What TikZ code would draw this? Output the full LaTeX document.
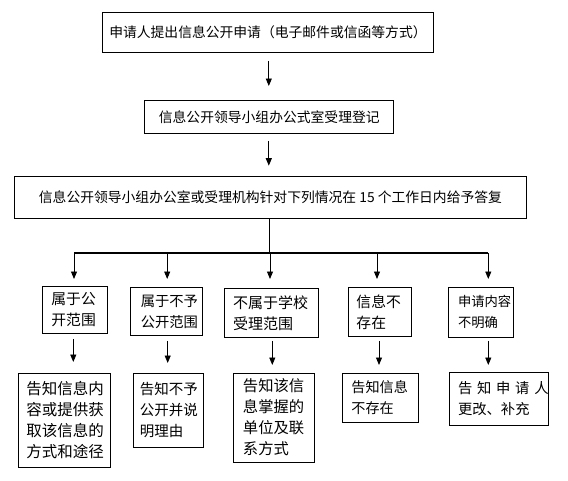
\documentclass[tikz,border=0pt]{standalone}
\usepackage{fontspec}
\setmainfont{Noto Sans CJK SC}
\usetikzlibrary{arrows.meta}
\newcommand{\fs}[1]{\fontsize{#1}{21}\selectfont}
\begin{document}
\begin{tikzpicture}[x=1pt,y=-1pt,
  box/.style={draw, line width=0.9pt, inner sep=0pt, anchor=north west},
  topbox/.style={box, align=center, font=\fontsize{13.8}{16}\selectfont},
  lowbox/.style={box, align=left},
  arr/.style={line width=0.9pt, -{Triangle[length=7.5pt,width=6pt]}},
  bar/.style={line width=2pt},
  stem/.style={line width=0.9pt}]
\useasboundingbox (0,0) rectangle (568,480);
% top boxes
\node[topbox, minimum width=331.6pt, minimum height=40.6pt] (t1) at (101.7,11.7)
  {申请人提出信息公开申请（电子邮件或信函等方式）};
\node[topbox, minimum width=249pt, minimum height=33.3pt] (t2) at (144.3,100)
  {信息公开领导小组办公式室受理登记};
\node[topbox, minimum width=511.4pt, minimum height=42.6pt] (t3) at (14.3,175.7)
  {信息公开领导小组办公室或受理机构针对下列情况在 15 个工作日内给予答复};
% level boxes
\node[lowbox, minimum width=65pt, minimum height=47pt, text width=46.4pt, font=\fs{14.8}] (b1) at (41.7,286) {属于公\\开范围};
\node[lowbox, minimum width=72pt, minimum height=48pt, text width=51.4pt, font=\fs{14.3}] (b2) at (130,287) {属于不予\\公开范围};
\node[lowbox, minimum width=94.3pt, minimum height=49pt, text width=77.1pt, font=\fs{15}] (b3) at (224,288.3) {不属于学校\\受理范围};
\node[lowbox, minimum width=63.3pt, minimum height=48.7pt, text width=46.7pt, font=\fs{14.8}] (b4) at (347.7,287.3) {信息不\\存在};
\node[lowbox, minimum width=64.4pt, minimum height=50pt, text width=45.8pt, font=\fs{13.3}] (b5) at (448.3,286.7) {申请内容\\不明确};
% result boxes
\node[lowbox, minimum width=91.7pt, minimum height=94pt, text width=76.5pt, font=\fs{15.5}] (c1) at (18.3,373) {告知信息内\\容或提供获\\取该信息的\\方式和途径};
\node[lowbox, minimum width=70pt, minimum height=74pt, text width=56.8pt, font=\fs{14.5}] (c2) at (132.7,373) {告知不予\\公开并说\\明理由};
\node[lowbox, minimum width=81pt, minimum height=89pt, text width=62.6pt, font=\fs{15.3}] (c3) at (233.3,372.7) {告知该信\\息掌握的\\单位及联\\系方式};
\node[lowbox, minimum width=76.6pt, minimum height=48.4pt, text width=58pt, font=\fs{14.1}] (c4) at (341.7,373.3) {告知信息\\不存在};
\node[lowbox, minimum width=99pt, minimum height=53.3pt, text width=82.4pt, font=\fs{14.3}] (c5) at (449.3,371.7) {告~知~申~请~人\\更改、补充};
% coordinates
\coordinate (ax) at (268.8,0);
\coordinate (sx) at (269.3,0);
\coordinate (k1) at (74,253.3);
\coordinate (k2) at (167.2,253.3);
\coordinate (k3) at (270,253.3);
\coordinate (k4) at (377,253.3);
\coordinate (k5) at (488.3,253.3);
\coordinate (l1) at (73.3,0);
\coordinate (l2) at (167.7,0);
\coordinate (l3) at (272.3,0);
\coordinate (l4) at (379,0);
\coordinate (l5) at (488.3,0);
% connectors
\draw[arr, shorten <=7.7pt, shorten >=14pt] (t1.south -| ax) -- (t2.north -| ax);
\draw[arr, shorten <=6.7pt, shorten >=10pt] (t2.south -| ax) -- (t3.north -| ax);
\draw[stem] (t3.south -| sx) -- (sx |- k1);
\draw[bar] (k1) -- (k5);
\draw[arr, shorten >=7pt] (k1) -- (k1 |- b1.north);
\draw[arr, shorten >=8pt] (k2) -- (k2 |- b2.north);
\draw[arr, shorten >=9.3pt] (k3) -- (k3 |- b3.north);
\draw[arr, shorten >=8.3pt] (k4) -- (k4 |- b4.north);
\draw[arr, shorten >=7.7pt] (k5) -- (k5 |- b5.north);
\draw[arr, shorten <=5pt, shorten >=11pt] (b1.south -| l1) -- (c1.north -| l1);
\draw[arr, shorten <=5pt, shorten >=10pt] (b2.south -| l2) -- (c2.north -| l2);
\draw[arr, shorten <=2.7pt, shorten >=7.7pt] (b3.south -| l3) -- (c3.north -| l3);
\draw[arr, shorten <=4pt, shorten >=8.3pt] (b4.south -| l4) -- (c4.north -| l4);
\draw[arr, shorten <=3.3pt, shorten >=6.7pt] (b5.south -| l5) -- (c5.north -| l5);
\end{tikzpicture}
\end{document}
